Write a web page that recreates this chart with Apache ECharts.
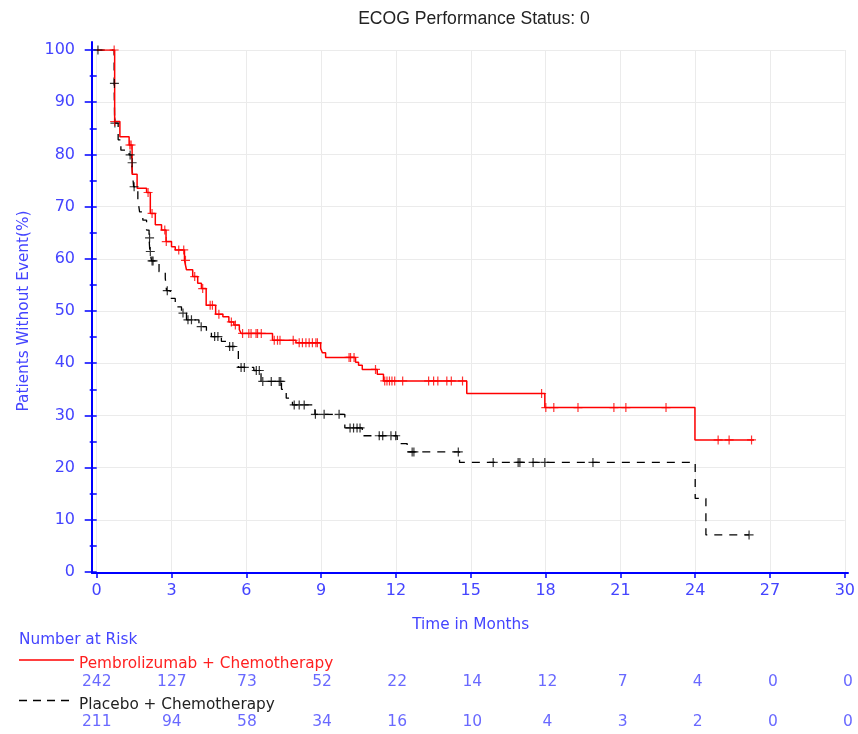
<!DOCTYPE html>
<html>
<head>
<meta charset="utf-8">
<script src="https://cdn.jsdelivr.net/npm/echarts@6/dist/echarts.min.js"></script>
<style>
html,body{margin:0;padding:0;background:#fff;overflow:hidden;}
#chart{width:858px;height:734px;}
</style>
</head>
<body>
<div id="chart"></div>
<script>
// ---- Data ----
var titleText = 'ECOG Performance Status: 0';
var xTicks = [0, 3, 6, 9, 12, 15, 18, 21, 24, 27, 30];
var yTicks = [0, 10, 20, 30, 40, 50, 60, 70, 80, 90, 100];

var pembroName = 'Pembrolizumab + Chemotherapy';
var pembroTimes = [0, 0.72, 0.93, 1.3, 1.42, 1.62, 2.0, 2.15, 2.35, 2.6, 2.78, 3.0, 3.15, 3.52, 3.6, 3.85, 4.05, 4.2, 4.39, 4.77, 5.06, 5.3, 5.5, 5.72, 5.79, 7.05, 7.99, 8.98, 9.05, 9.18, 10.38, 10.5, 10.65, 11.25, 11.5, 14.84, 17.97, 23.99, 26.36];
var pembroSurv  = [100, 86.3, 83.4, 81.8, 76.2, 73.5, 72.7, 68.7, 66.5, 65.5, 63.3, 62.3, 61.7, 59.7, 57.9, 56.6, 55.3, 54.3, 51.1, 49.4, 48.9, 47.9, 47.3, 46.4, 45.7, 44.4, 43.9, 42.8, 42.0, 41.1, 40.2, 39.6, 38.8, 37.9, 36.6, 34.2, 31.5, 25.3, 25.3];
var pembroCensor = [0.7, 0.72, 1.33, 1.38, 2.06, 2.22, 2.73, 2.79, 3.29, 3.49, 3.56, 3.93, 4.25, 4.55, 4.64, 4.9, 5.4, 5.56, 5.85, 6.1, 6.19, 6.39, 6.45, 6.6, 7.12, 7.25, 7.35, 7.88, 8.12, 8.25, 8.39, 8.52, 8.65, 8.79, 8.85, 10.12, 10.18, 10.32, 11.18, 11.55, 11.64, 11.74, 11.84, 11.95, 12.27, 13.31, 13.51, 13.68, 14.04, 14.22, 14.67, 17.84, 18.01, 18.33, 19.3, 20.74, 21.22, 22.83, 24.92, 25.36, 26.26];

var placeboName = 'Placebo + Chemotherapy';
var placeboTimes = [0, 0.70, 0.72, 0.86, 0.97, 1.3, 1.40, 1.48, 1.65, 1.72, 1.85, 2.0, 2.1, 2.13, 2.2, 2.5, 2.75, 2.8, 2.95, 3.15, 3.4, 3.6, 4.1, 4.4, 4.6, 5.0, 5.25, 5.55, 5.68, 6.3, 6.59, 7.41, 7.6, 7.85, 8.75, 9.95, 10.65, 12.05, 12.45, 14.55, 24.0, 24.43, 26.16];
var placeboSurv  = [100, 93.6, 86.0, 82.8, 80.8, 79.9, 78.4, 73.8, 71.3, 69.0, 67.4, 65.5, 64.0, 61.4, 59.6, 57.5, 56.3, 53.9, 52.4, 50.8, 49.6, 48.3, 47.0, 46.0, 45.1, 44.2, 43.2, 42.4, 39.2, 38.6, 36.5, 35.0, 33.3, 32.0, 30.2, 27.6, 26.1, 24.6, 23.0, 21.0, 14.1, 7.1, 7.1];
var placeboCensor = [0.05, 0.71, 0.73, 1.34, 1.42, 1.5, 2.12, 2.15, 2.22, 2.26, 2.83, 3.46, 3.66, 3.8, 4.19, 4.73, 4.86, 5.33, 5.46, 5.79, 5.92, 6.4, 6.52, 6.66, 7.0, 7.32, 7.38, 7.92, 8.12, 8.32, 8.77, 9.12, 9.72, 10.16, 10.3, 10.44, 10.56, 11.33, 11.47, 11.8, 11.99, 12.65, 12.72, 14.5, 15.9, 16.9, 16.97, 17.5, 17.97, 19.9, 26.16];

var riskTimes = [0, 3, 6, 9, 12, 15, 18, 21, 24, 27, 30];
var pembroRisk  = [242, 127, 73, 52, 22, 14, 12, 7, 4, 0, 0];
var placeboRisk = [211, 94, 58, 34, 16, 10, 4, 3, 2, 0, 0];

// ---- Build ----
function pairs(t, s) { return t.map(function (v, i) { return [v, s[i]]; }); }
function stepAt(t, s, x) {
  var v = s[0];
  for (var i = 0; i < t.length; i++) { if (t[i] <= x) v = s[i]; else break; }
  return v;
}
function censorPts(c, t, s) { return c.map(function (x) { return [x, stepAt(t, s, x)]; }); }
function riskPts(r, row) { return riskTimes.map(function (x, i) { return [x, row, r[i]]; }); }

var FONT = 'DejaVu Sans';
var AXIS_BLUE = '#0000ff';
var LABEL_BLUE = '#4444ff';
var plus = 'path://M0,5L10,5M5,0L5,10';

var chart = echarts.init(document.getElementById('chart'), null, {renderer: 'canvas', width: 858, height: 734});
var option = {
  animation: false,
  backgroundColor: '#ffffff',
  title: {
    text: titleText, left: 469, top: 5, textAlign: 'center',
    textStyle: {fontFamily: 'Liberation Sans', fontSize: 17.6, fontWeight: 'normal', color: '#222'}
  },
  grid: [
    {left: 96.7, right: 10, top: 50, bottom: 162},
    {left: 96.7, right: 10, top: 682, height: 40},
    {left: 92, right: 10, top: 42, bottom: 161}
  ],
  xAxis: [
    {
      gridIndex: 0, type: 'value', min: 0, max: 30, interval: 3,
      name: 'Time in Months', nameLocation: 'middle', nameGap: 46,
      nameTextStyle: {fontFamily: FONT, fontSize: 15.3, color: LABEL_BLUE},
      axisLine: {show: false},
      axisTick: {show: true, length: 6, lineStyle: {color: AXIS_BLUE, width: 1.5}},
      axisLabel: {fontFamily: FONT, fontSize: 16, color: LABEL_BLUE, margin: 11},
      splitLine: {show: true, lineStyle: {color: '#ebebeb', width: 1}}
    },
    {gridIndex: 1, type: 'value', min: 0, max: 30, show: false},
    {
      gridIndex: 2, type: 'value', min: -0.19, max: 30,
      axisLine: {show: true, lineStyle: {color: AXIS_BLUE, width: 2}},
      axisTick: {show: false}, axisLabel: {show: false}, splitLine: {show: false}
    }
  ],
  yAxis: [
    {
      gridIndex: 0, type: 'value', min: 0, max: 100, interval: 10, offset: 4.7,
      name: 'Patients Without Event(%)', nameLocation: 'middle', nameGap: 60,
      nameTextStyle: {fontFamily: FONT, fontSize: 15.3, color: LABEL_BLUE},
      axisLine: {show: false},
      axisTick: {show: true, length: 12, lineStyle: {color: AXIS_BLUE, width: 1.5}},
      minorTick: {show: true, splitNumber: 2, length: 7, lineStyle: {color: AXIS_BLUE, width: 1.5}},
      axisLabel: {fontFamily: FONT, fontSize: 16, color: LABEL_BLUE, margin: 17},
      splitLine: {show: true, lineStyle: {color: '#ebebeb', width: 1}}
    },
    {gridIndex: 1, type: 'value', min: 0, max: 1, show: false},
    {
      gridIndex: 2, type: 'value', min: 0, max: 100,
      axisLine: {show: true, onZero: false, lineStyle: {color: AXIS_BLUE, width: 2}},
      axisTick: {show: false}, axisLabel: {show: false}, splitLine: {show: false}
    }
  ],
  series: [
    {
      name: placeboName, type: 'line', step: 'end', xAxisIndex: 0, yAxisIndex: 0,
      data: pairs(placeboTimes, placeboSurv), showSymbol: false, symbol: 'none',
      lineStyle: {color: '#000', width: 1.3, type: [8, 7]}, z: 3
    },
    {
      name: pembroName, type: 'line', step: 'end', xAxisIndex: 0, yAxisIndex: 0,
      data: pairs(pembroTimes, pembroSurv), showSymbol: false, symbol: 'none',
      lineStyle: {color: '#ff0000', width: 1.5}, z: 4
    },
    {
      type: 'scatter', xAxisIndex: 0, yAxisIndex: 0,
      data: censorPts(placeboCensor, placeboTimes, placeboSurv),
      symbol: plus, symbolSize: 9,
      itemStyle: {color: 'none', borderColor: '#000', borderWidth: 1.2}, z: 5
    },
    {
      type: 'scatter', xAxisIndex: 0, yAxisIndex: 0,
      data: censorPts(pembroCensor, pembroTimes, pembroSurv),
      symbol: plus, symbolSize: 9,
      itemStyle: {color: 'none', borderColor: '#ff0000', borderWidth: 1.2}, z: 6
    },
    {
      type: 'scatter', xAxisIndex: 1, yAxisIndex: 1,
      data: riskPts(pembroRisk, 1), symbolSize: 1, itemStyle: {color: 'transparent'},
      label: {show: true, position: 'inside', formatter: function (p) { return p.value[2]; },
        fontFamily: FONT, fontSize: 15.5, color: LABEL_BLUE}
    },
    {
      type: 'scatter', xAxisIndex: 1, yAxisIndex: 1,
      data: riskPts(placeboRisk, 0), symbolSize: 1, itemStyle: {color: 'transparent'},
      label: {show: true, position: 'inside', formatter: function (p) { return p.value[2]; },
        fontFamily: FONT, fontSize: 15.5, color: LABEL_BLUE}
    }
  ],
  graphic: [
    {type: 'text', left: 19, top: 633, style: {text: 'Number at Risk', font: '15.3px "DejaVu Sans"', fill: LABEL_BLUE}},
    {type: 'line', shape: {x1: 19, y1: 660, x2: 74, y2: 660}, style: {stroke: '#ff0000', lineWidth: 1.3}},
    {type: 'text', left: 79, top: 657, style: {text: pembroName, font: '15.3px "DejaVu Sans"', fill: '#ff2020'}},
    {type: 'line', shape: {x1: 19, y1: 700.5, x2: 74, y2: 700.5}, style: {stroke: '#000', lineWidth: 1.3, lineDash: [8, 6]}},
    {type: 'text', left: 79, top: 698, style: {text: placeboName, font: '15.3px "DejaVu Sans"', fill: '#222'}}
  ]
};
chart.setOption(option);
</script>
</body>
</html>
